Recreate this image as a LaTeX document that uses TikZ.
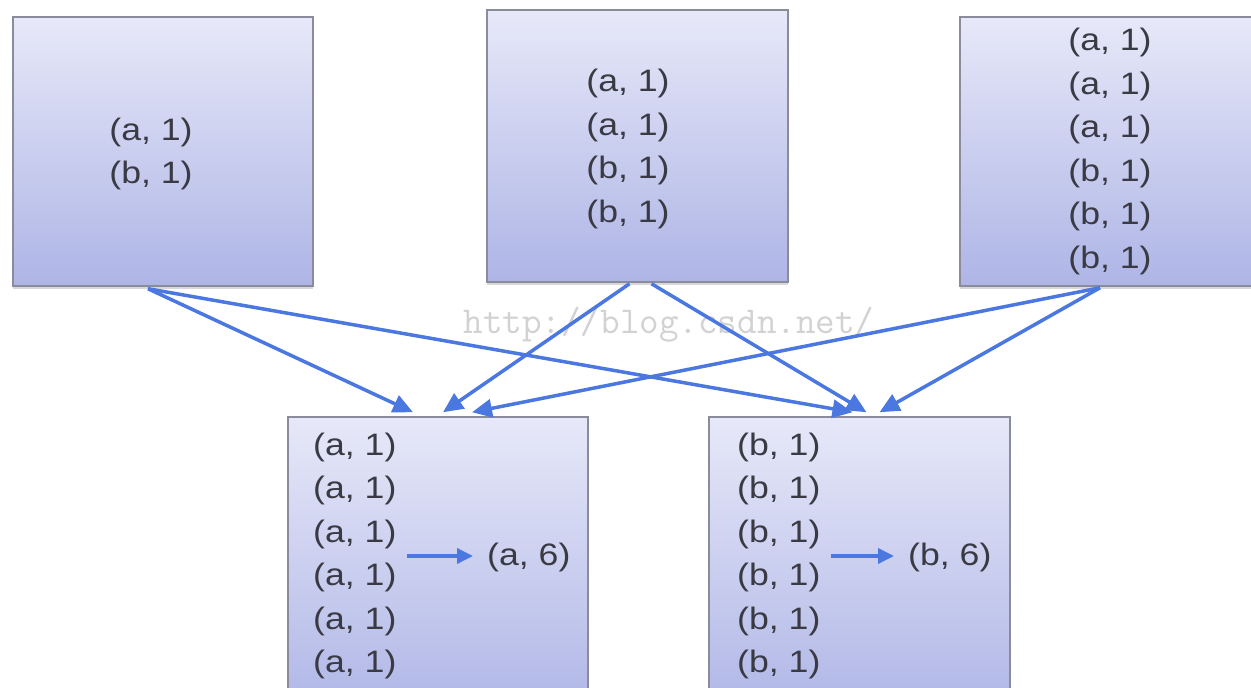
\documentclass[tikz,border=0pt]{standalone}
\usepackage{fontspec}
\setmainfont{Liberation Sans}
\newfontfamily\pairfont{Liberation Sans}[FakeStretch=1.15]
\usetikzlibrary{arrows.meta,shadows}

\definecolor{boxtop}{HTML}{E7E8F8}
\definecolor{boxbot}{HTML}{AEB5E6}
\definecolor{boxline}{HTML}{8A8C9C}
\definecolor{flow}{HTML}{4A78E0}
\definecolor{ink}{HTML}{3A3A44}
\definecolor{faint}{HTML}{D2D2D2}

\begin{document}
\begin{tikzpicture}[x=1pt,y=-1pt,
  databox/.style={draw=boxline, line width=1.5pt, top color=boxtop, bottom color=boxbot,
    inner sep=0pt, minimum width=300pt,
    drop shadow={shadow xshift=0pt, shadow yshift=-3pt, opacity=0.25, fill=black!60}},
  pairs/.style={text=ink, font=\pairfont\fontsize{31}{43.5}\selectfont, inner sep=0pt},
  flowarrow/.style={draw=flow, line width=3.5pt, -{Triangle[length=20pt,width=18pt]}},
  sumarrow/.style={draw=flow, line width=3.5pt, -{Triangle[length=16pt,width=15pt]}},
]
\useasboundingbox (0,0) rectangle (1251,688);
\clip (0,0) rectangle (1251,688);
\fill[white] (0,0) rectangle (1251,688);

% map side: three input splits
\node[databox, minimum height=269pt] (b1) at (163,151.5) {};
\node[databox, minimum width=301pt, minimum height=272pt] (b2) at (637.5,146) {};
\node[databox, minimum width=302pt, minimum height=269pt] (b3) at (1111,151.5) {};

% reduce side: two partitions
\node[databox, minimum height=303pt] (b4) at (438,568.5) {};
\node[databox, minimum width=301pt, minimum height=303pt] (b5) at (859.5,568.5) {};

% contents of the splits
\node[pairs, align=center] (t1) at (151,154) {(a, 1)\\(b, 1)};
\node[pairs, align=center] (t2) at (628,149) {(a, 1)\\(a, 1)\\(b, 1)\\(b, 1)};
\node[pairs, align=center] (t3) at (1110,151.5) {(a, 1)\\(a, 1)\\(a, 1)\\(b, 1)\\(b, 1)\\(b, 1)};

% grouped values and their sums
\node[pairs, align=left, anchor=west] (l4) at (313,556) {(a, 1)\\(a, 1)\\(a, 1)\\(a, 1)\\(a, 1)\\(a, 1)};
\node[pairs, anchor=west] (s4) at (487,557) {(a, 6)};
\node[pairs, align=left, anchor=west] (l5) at (737,556) {(b, 1)\\(b, 1)\\(b, 1)\\(b, 1)\\(b, 1)\\(b, 1)};
\node[pairs, anchor=west] (s5) at (908,557) {(b, 6)};

% blog address
\node[text=faint, font=\ttfamily\fontsize{38}{42}\selectfont, inner sep=0pt] (url) at (669,325) {http://blog.csdn.net/};

% shuffle: every split sends its pairs to both partitions
\draw[flowarrow] ([xshift=-15pt,yshift=-2pt]b1.south) -- ([xshift=-25pt,yshift=4pt]b4.north);
\draw[flowarrow] ([xshift=-15pt,yshift=-2pt]b1.south) -- ([xshift=-7pt,yshift=4pt]b5.north);
\draw[flowarrow] ([xshift=-8pt,yshift=-1pt]b2.south) -- ([xshift=5pt,yshift=4pt]b4.north);
\draw[flowarrow] ([xshift=14pt,yshift=-1pt]b2.south) -- ([xshift=7pt,yshift=4pt]b5.north);
\draw[flowarrow] ([xshift=-11pt,yshift=-1pt]b3.south) -- ([xshift=34pt,yshift=4pt]b4.north);
\draw[flowarrow] ([xshift=-11pt,yshift=-1pt]b3.south) -- ([xshift=20pt,yshift=4pt]b5.north);

% reduction inside each partition
\draw[sumarrow] ([xshift=10pt]l4.east) -- ([xshift=-14pt,yshift=1pt]s4.west);
\draw[sumarrow] ([xshift=10pt]l5.east) -- ([xshift=-14pt,yshift=1pt]s5.west);
\end{tikzpicture}
\end{document}
